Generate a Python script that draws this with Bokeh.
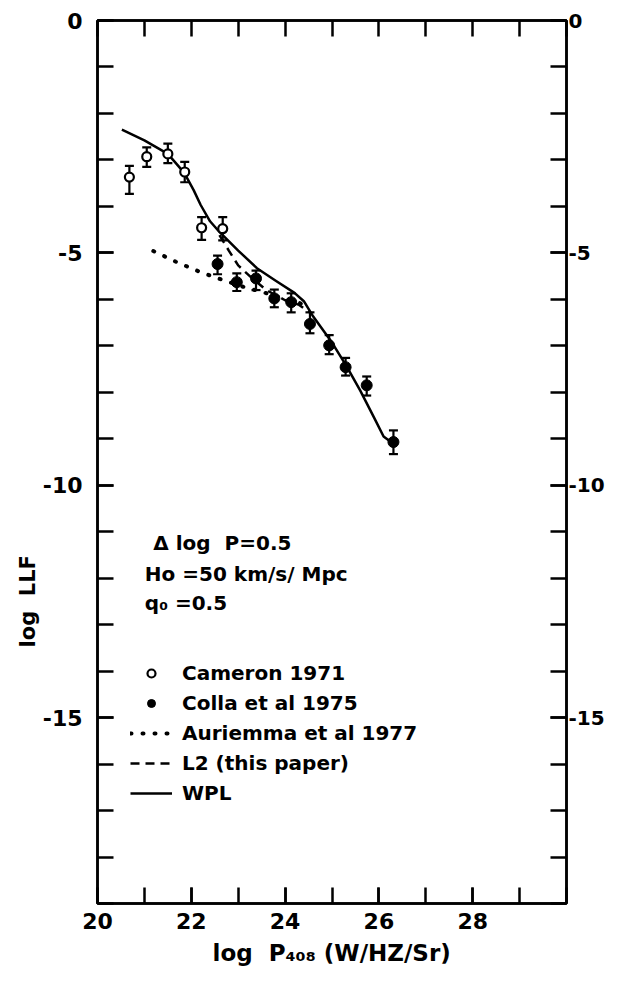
from bokeh.plotting import figure
from bokeh.models import (LinearAxis, FixedTicker, Whisker, TeeHead, ColumnDataSource,
                          Legend, LegendItem, Range1d, Title)
from bokeh.embed import file_html
from bokeh.resources import INLINE
from bokeh.core.properties import value

# ---------------- data ----------------
cameron_x = [20.68, 21.05, 21.50, 21.86, 22.22, 22.67]
cameron_y = [-3.37, -2.93, -2.87, -3.26, -4.46, -4.48]
cameron_up = [0.24, 0.20, 0.22, 0.22, 0.23, 0.25]
cameron_dn = [0.36, 0.22, 0.20, 0.22, 0.26, 0.25]

colla_x = [22.56, 22.97, 23.38, 23.77, 24.13, 24.53, 24.94, 25.29, 25.74, 26.31]
colla_y = [-5.24, -5.63, -5.55, -5.98, -6.06, -6.53, -6.99, -7.46, -7.85, -9.07]
colla_up = [0.18, 0.19, 0.17, 0.19, 0.19, 0.25, 0.22, 0.20, 0.19, 0.25]
colla_dn = [0.22, 0.19, 0.25, 0.19, 0.22, 0.20, 0.19, 0.18, 0.22, 0.26]

auriemma_x = [21.19, 21.67, 22.21, 22.66, 23.14, 23.61, 23.96, 24.28, 24.50]
auriemma_y = [-4.96, -5.19, -5.42, -5.58, -5.74, -5.87, -5.98, -6.06, -6.20]

l2_x = [22.60, 22.80, 23.00, 23.30, 23.60, 24.00, 24.30, 24.55]
l2_y = [-4.62, -4.95, -5.27, -5.55, -5.80, -6.02, -6.12, -6.30]

wpl_x = [20.52, 21.00, 21.50, 21.85, 22.05, 22.20, 22.40, 22.60, 23.00, 23.40,
         23.80, 24.20, 24.40, 24.60, 25.00, 25.30, 25.60, 25.90, 26.10, 26.30]
wpl_y = [-2.35, -2.58, -2.87, -3.28, -3.65, -3.97, -4.32, -4.55, -4.95, -5.33,
         -5.60, -5.86, -6.04, -6.37, -6.93, -7.42, -7.96, -8.55, -8.95, -9.10]

x_major = [20, 22, 24, 26, 28]
x_minor = list(range(20, 31))
y_major = [0, -5, -10, -15]
y_minor = list(range(-19, 1))
y_labels = {0: "0", -5: "-5", -10: "-10", -15: "-15"}

info_lines = ["\u0394 log \u00a0P=0.5", "Ho =50 km/s/ Mpc", "q\u2080 =0.5"]
info_x = [21.19, 21.01, 21.01]
info_y = [-11.24, -11.91, -12.54]

x_title = "log\u00a0\u00a0P\u2084\u2080\u2088 (W/HZ/Sr)"
y_title = "log\u00a0\u00a0LLF"

FONT = "DejaVu Sans"

# ---------------- figure ----------------
p = figure(width=609, height=980, output_backend="svg", toolbar_location=None,
           x_range=Range1d(20, 30), y_range=Range1d(-19, 0),
           x_axis_location=None, y_axis_location=None,
           min_border_left=97, min_border_right=43, min_border_top=20,
           min_border_bottom=77)
p.grid.visible = False
p.outline_line_color = "black"
p.outline_line_width = 2.5
p.background_fill_color = "white"
p.border_fill_color = "white"


def style_axis(ax, size="22px"):
    ax.axis_line_color = "black"
    ax.axis_line_width = 2.5
    ax.major_tick_in = 16
    ax.major_tick_out = 0
    ax.minor_tick_in = 16
    ax.minor_tick_out = 0
    ax.major_tick_line_width = 2.5
    ax.minor_tick_line_width = 2.5
    ax.major_tick_line_color = "black"
    ax.minor_tick_line_color = "black"
    ax.major_label_text_font = FONT
    ax.major_label_text_font_style = "bold"
    ax.major_label_text_color = "black"
    ax.major_label_text_font_size = size


xb = LinearAxis(ticker=FixedTicker(ticks=x_major, minor_ticks=x_minor))
style_axis(xb)
xb.major_label_standoff = 9
p.add_layout(xb, "below")

xt = LinearAxis(ticker=FixedTicker(ticks=[], minor_ticks=x_minor))
style_axis(xt)
xt.major_label_standoff = 0
p.add_layout(xt, "above")

yl = LinearAxis(ticker=FixedTicker(ticks=y_major, minor_ticks=y_minor),
                major_label_overrides=y_labels)
style_axis(yl)
yl.major_label_standoff = 15
p.add_layout(yl, "left")

yr = LinearAxis(ticker=FixedTicker(ticks=y_major, minor_ticks=y_minor),
                major_label_overrides=y_labels)
style_axis(yr, size="20px")
yr.major_label_standoff = 2
p.add_layout(yr, "right")

# axis titles (placed as side titles so they can be offset like the original)
tx = Title(text=x_title, align="left", offset=115, standoff=12,
           vertical_align="bottom", text_font=FONT, text_font_size="23px",
           text_font_style="bold", text_color="black")
p.add_layout(tx, "below")

ty = Title(text=y_title, align="left", offset=256, standoff=0,
           text_font=FONT, text_font_size="21px",
           text_font_style="bold", text_color="black")
p.add_layout(ty, "left")

# ---------------- curves ----------------
r_wpl = p.line(wpl_x, wpl_y, line_color="black", line_width=2.5, line_join="round")
r_l2 = p.line(l2_x, l2_y, line_color="black", line_width=2.5, line_dash="9 6")
r_aur = p.line(auriemma_x, auriemma_y, line_color="black", line_width=4,
               line_dash="1 11", line_cap="round")

# ---------------- points with error bars ----------------
cam_src = ColumnDataSource(dict(
    x=cameron_x, y=cameron_y,
    upper=[y + u for y, u in zip(cameron_y, cameron_up)],
    lower=[y - d for y, d in zip(cameron_y, cameron_dn)]))
col_src = ColumnDataSource(dict(
    x=colla_x, y=colla_y,
    upper=[y + u for y, u in zip(colla_y, colla_up)],
    lower=[y - d for y, d in zip(colla_y, colla_dn)]))

for src in (cam_src, col_src):
    w = Whisker(base="x", upper="upper", lower="lower", source=src,
                line_color="black", line_width=2.2,
                upper_head=TeeHead(size=9, line_width=2.2, line_color="black"),
                lower_head=TeeHead(size=9, line_width=2.2, line_color="black"))
    p.add_layout(w)

r_cam = p.scatter("x", "y", source=cam_src, marker="circle", size=9,
                  fill_color="white", line_color="black", line_width=2.2)
r_col = p.scatter("x", "y", source=col_src, marker="circle", size=11,
                  fill_color="black", line_color="black")

# ---------------- info text ----------------
p.text(x=info_x, y=info_y, text=info_lines, text_font=value(FONT),
       text_font_size="20px", text_font_style="bold", text_color="black",
       text_baseline="middle", text_align="left")

# ---------------- legend ----------------
legend = Legend(items=[
    LegendItem(label="Cameron 1971", renderers=[r_cam]),
    LegendItem(label="Colla et al 1975", renderers=[r_col]),
    LegendItem(label="Auriemma et al 1977", renderers=[r_aur]),
    LegendItem(label="L2 (this paper)", renderers=[r_l2]),
    LegendItem(label="WPL", renderers=[r_wpl]),
], location=(33, 98))
legend.border_line_color = None
legend.background_fill_alpha = 0
legend.padding = 0
legend.margin = 0
legend.spacing = 6
legend.glyph_width = 42
legend.glyph_height = 20
legend.label_height = 20
legend.label_standoff = 10
legend.label_text_font = FONT
legend.label_text_font_size = "20px"
legend.label_text_font_style = "bold"
legend.label_text_color = "black"
p.add_layout(legend)

open("out.html", "w").write(file_html(p, INLINE))
